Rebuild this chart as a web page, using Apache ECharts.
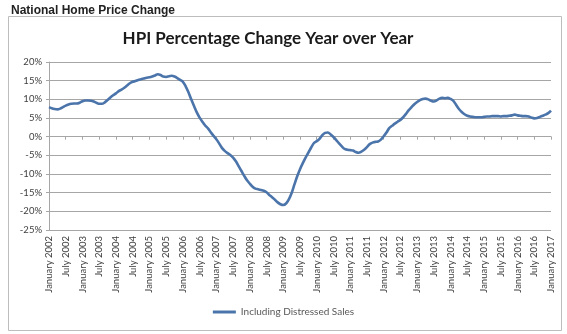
<!DOCTYPE html>
<html>
<head>
<meta charset="utf-8">
<script src="https://cdn.jsdelivr.net/npm/echarts@6/dist/echarts.min.js"></script>
<style>
html,body{margin:0;padding:0;background:#fff;}
#chart{width:567px;height:334px;}
</style>
</head>
<body>
<div id="chart"></div>
<script>
// Month names and years used for category labels
var monthNames = ['January','February','March','April','May','June','July','August','September','October','November','December'];
var years = [2002,2003,2004,2005,2006,2007,2008,2009,2010,2011,2012,2013,2014,2015,2016,2017];

// HPI % change year over year, monthly, Jan 2002 .. Jan 2017
var v2002 = [7.9, 7.6, 7.4, 7.3, 7.5, 7.9, 8.3, 8.6, 8.8, 8.9, 8.9, 9.1];
var v2003 = [9.5, 9.7, 9.7, 9.6, 9.4, 9.1, 8.8, 8.8, 9.2, 9.8, 10.5, 11.1];
var v2004 = [11.6, 12.2, 12.6, 13.1, 13.7, 14.3, 14.7, 14.9, 15.2, 15.4, 15.6, 15.8];
var v2005 = [15.9, 16.1, 16.4, 16.7, 16.5, 16.1, 16.0, 16.2, 16.3, 16.1, 15.7, 15.2];
var v2006 = [14.7, 13.5, 11.9, 10.0, 8.2, 6.5, 5.1, 4.0, 3.0, 2.2, 1.2, 0.2];
var v2007 = [-0.7, -1.8, -3.0, -3.8, -4.4, -4.9, -5.6, -6.6, -7.9, -9.2, -10.5, -11.7];
var v2008 = [-12.6, -13.4, -13.9, -14.1, -14.3, -14.5, -14.9, -15.6, -16.2, -16.9, -17.6, -18.1];
var v2009 = [-18.3, -17.9, -16.8, -15.1, -12.8, -10.6, -8.7, -7.1, -5.6, -4.3, -2.9, -1.7];
var v2010 = [-1.2, -0.6, 0.4, 1.0, 1.1, 0.6, -0.1, -0.9, -1.8, -2.6, -3.3, -3.5];
var v2011 = [-3.6, -3.7, -4.1, -4.3, -4.0, -3.5, -2.8, -2.0, -1.6, -1.4, -1.3, -0.8];
var v2012 = [0.1, 1.1, 2.3, 2.9, 3.5, 4.0, 4.5, 5.2, 6.1, 7.1, 7.9, 8.7];
var v2013 = [9.3, 9.8, 10.1, 10.2, 10.0, 9.6, 9.4, 9.7, 10.2, 10.4, 10.3, 10.4];
var v2014 = [10.1, 9.6, 8.5, 7.4, 6.6, 6.0, 5.6, 5.4, 5.3, 5.2, 5.2, 5.2];
var v2015 = [5.3, 5.4, 5.4, 5.5, 5.5, 5.5, 5.4, 5.5, 5.5, 5.6, 5.7, 5.9];
var v2016 = [5.7, 5.6, 5.5, 5.5, 5.4, 5.1, 4.9, 5.0, 5.3, 5.6, 5.9, 6.3];
var v2017 = [7.0];

var seriesName = 'Including Distressed Sales';

var values = [].concat(v2002, v2003, v2004, v2005, v2006, v2007, v2008, v2009,
                       v2010, v2011, v2012, v2013, v2014, v2015, v2016, v2017);
var categories = [];
for (var i = 0; i < values.length; i++) {
  categories.push(monthNames[i % 12] + ' ' + years[Math.floor(i / 12)]);
}

var chart = echarts.init(document.getElementById('chart'), null, {renderer: 'canvas'});
var textCol = '#404040';
chart.setOption({
  animation: false,
  backgroundColor: '#ffffff',
  title: [
    {
      text: 'National Home Price Change',
      left: 6, top: 0,
      textStyle: {fontFamily: 'Liberation Sans, Arial, sans-serif', fontSize: 12, fontWeight: 'bold', color: '#222'}
    },
    {
      text: 'HPI Percentage Change Year over Year',
      left: 263, top: 25, textAlign: 'center',
      textStyle: {fontFamily: 'Lato, sans-serif', fontSize: 17, fontWeight: 'bold', color: '#1a1a1a'}
    }
  ],
  graphic: [{
    type: 'rect', z: -1,
    shape: {x: 8.5, y: 16.5, width: 553, height: 314},
    style: {fill: '#fff', stroke: '#bdbdbd', lineWidth: 1}
  }],
  legend: {
    data: [seriesName],
    bottom: 12, left: 'center',
    icon: 'rect', itemWidth: 23, itemHeight: 3, itemGap: 4,
    textStyle: {fontFamily: 'Lato, sans-serif', fontSize: 10, color: '#595959'}
  },
  grid: {left: 49, right: 16, top: 62, bottom: 104, containLabel: false},
  xAxis: [
    {
      type: 'category', data: categories, boundaryGap: false, position: 'bottom',
      axisLine: {show: false, onZero: false},
      axisTick: {show: false},
      splitLine: {show: false},
      axisLabel: {
        interval: 5, rotate: 90, margin: 6,
        fontFamily: 'Lato, sans-serif', fontSize: 9.5, color: textCol
      }
    },
    {
      type: 'category', data: categories, boundaryGap: false, position: 'bottom',
      axisLine: {show: true, onZero: true, lineStyle: {color: '#a6a6a6', width: 1}},
      axisTick: {show: true, interval: 5, length: 3, lineStyle: {color: '#a6a6a6'}},
      axisLabel: {show: false},
      splitLine: {show: false}
    }
  ],
  yAxis: {
    type: 'value', min: -25, max: 20, interval: 5,
    axisLine: {show: true, lineStyle: {color: '#a6a6a6'}},
    axisTick: {show: true, length: 3, lineStyle: {color: '#a6a6a6'}},
    splitLine: {show: true, lineStyle: {color: '#a6a6a6', width: 1}},
    axisLabel: {
      formatter: '{value}%', margin: 7,
      fontFamily: 'Lato, sans-serif', fontSize: 9.5, color: textCol
    }
  },
  series: [{
    name: seriesName, type: 'line', data: values, xAxisIndex: 0,
    showSymbol: false, symbol: 'none', smooth: 0.3,
    lineStyle: {color: '#4a74aa', width: 2.6},
    itemStyle: {color: '#4a74aa'}
  }]
});
</script>
</body>
</html>
